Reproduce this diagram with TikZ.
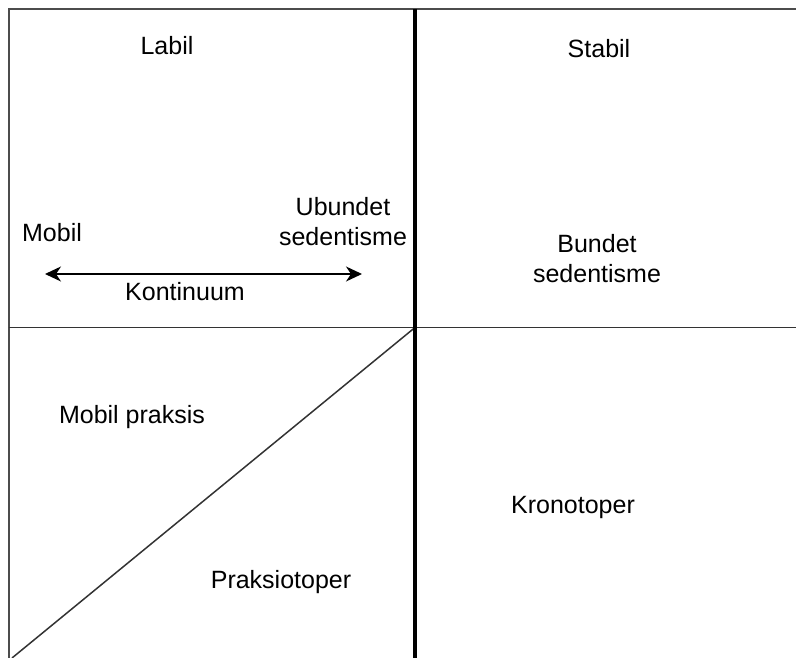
\documentclass[tikz,border=0pt]{standalone}
\usepackage{fontspec}
\setmainfont{Liberation Sans}
\usetikzlibrary{arrows.meta}
\begin{document}
\begin{tikzpicture}[x=1pt,y=-1pt,
  lbl/.style={font=\fontsize{25}{30}\selectfont, inner sep=0pt, anchor=base, align=center},
  frame/.style={draw=black!70, line width=2pt},
  thin/.style={draw=black!80, line width=1.5pt},
  thick/.style={draw=black, line width=4pt},
  dblarrow/.style={arrows={Stealth[length=16pt,width=15pt,inset=5pt]-Stealth[length=16pt,width=15pt,inset=5pt]}}]
\useasboundingbox (0,0) rectangle (796,658);
\coordinate (tl) at (8.5,9.5);
\coordinate (tr) at (796,9.5);
\coordinate (bl) at (8.5,658);
\coordinate (ml) at (8.5,327.5);
\coordinate (mr) at (796,327.5);
\coordinate (vt) at (415,9.5);
\coordinate (vb) at (415,658);
\coordinate (c) at (415,327.5);
\coordinate (d) at (12,658);
\coordinate (a1) at (45,274);
\coordinate (a2) at (362,274);
\draw[frame] (bl) -- (tl) -- (tr);
\draw[thin] (ml) -- (mr);
\draw[thin] (c) -- (d);
\draw[thick] (vt) -- (vb);
\draw[draw=black, line width=1.5pt, dblarrow] (a1) -- (a2);
\node[lbl] (labil) at (167,55) {Labil};
\node[lbl] (stabil) at (599,58) {Stabil};
\node[lbl] (mobil) at (52,241) {Mobil};
\node[lbl] (ubundet) at (343,245) {Ubundet\\sedentisme};
\node[lbl] (bundet) at (597,283) {Bundet\\sedentisme};
\node[lbl] (kont) at (185,300) {Kontinuum};
\node[lbl] (mpraks) at (132,423) {Mobil praksis};
\node[lbl] (krono) at (573,513) {Kronotoper};
\node[lbl] (praksio) at (281,588) {Praksiotoper};
\end{tikzpicture}
\end{document}
